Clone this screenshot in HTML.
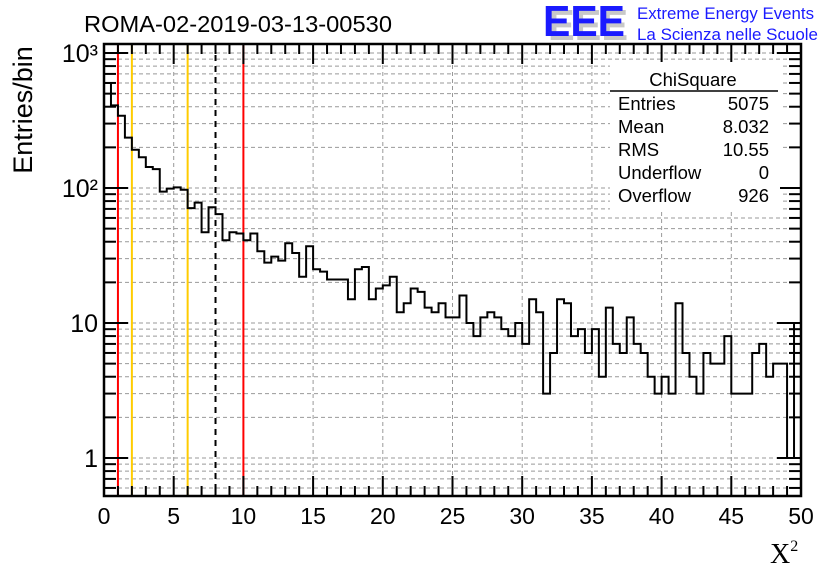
<!DOCTYPE html>
<html><head><meta charset="utf-8"><style>
html,body{margin:0;padding:0;background:#fff;}
svg{display:block;font-family:"Liberation Sans",sans-serif;}
</style></head><body>
<svg id="chart" width="836" height="572" viewBox="0 0 836 572" xmlns="http://www.w3.org/2000/svg">
<g id="grid"></g>
<g id="marks"></g>
<g id="hist"></g>
<g id="axes"></g>
<text x="84" y="32" font-size="23.5" textLength="308" lengthAdjust="spacingAndGlyphs">ROMA-02-2019-03-13-00530</text>
<text x="32" y="110" font-size="27" transform="rotate(-90 32 110)" text-anchor="middle">Entries/bin</text>
<text x="770" y="563" font-size="28" font-family="Liberation Serif, serif">X<tspan font-size="16" dy="-12">2</tspan></text>
<g>
<text x="548" y="40" font-size="44" font-weight="bold" fill="#c8c8c8" textLength="80" lengthAdjust="spacingAndGlyphs">EEE</text>
<text x="543" y="36" font-size="44" font-weight="bold" fill="#1a1aff" textLength="82" lengthAdjust="spacingAndGlyphs">EEE</text>
<text x="637" y="19" font-size="16.5" fill="#1a1aff" textLength="177" lengthAdjust="spacingAndGlyphs">Extreme Energy Events</text>
<text x="637" y="40" font-size="16.5" fill="#1a1aff" textLength="181" lengthAdjust="spacingAndGlyphs">La Scienza nelle Scuole</text>
</g>
<g font-size="18.5">
<rect x="610" y="62" width="170" height="150" fill="#fff"/>
<text x="693" y="86" text-anchor="middle">ChiSquare</text>
<line x1="610" y1="91" x2="778" y2="91" stroke="#000" stroke-width="1.5"/>
<text x="618" y="110">Entries</text><text x="769" y="110" text-anchor="end">5075</text>
<text x="618" y="133">Mean</text><text x="769" y="133" text-anchor="end">8.032</text>
<text x="618" y="156">RMS</text><text x="769" y="156" text-anchor="end">10.55</text>
<text x="618" y="179">Underflow</text><text x="769" y="179" text-anchor="end">0</text>
<text x="618" y="202">Overflow</text><text x="769" y="202" text-anchor="end">926</text>
</g>
</svg>
<script>
const counts = [600,409,343,236,192,169,143,138,94,99,101,97,71,78,47,72,64,41,47,46,41,46,34,28,31,29,39,33,22,37,25,24,21,21,21,15,25,26,15,18,19,22,12,14,18,17,13,12,14,11,11,16,10,8,11,12,11,9,8,10,7,15,12,3,6,15,14,8,9,6,9,4,13,7,6,11,7,6,4,3,4,3,14,6,4,3,6,5,5,8,3,3,3,6,7,4,5,5,1,10];
const xTicks = [0,5,10,15,20,25,30,35,40,45,50];
const yDecades = [1,10,100,1000];
const yLabels = ["1","10","10²","10³"];
const cutRed = [1,10];
const cutYellow = [2,6];
const cutMean = [8];
const xMin=0,xMax=50,binW=0.5;
const L=104,R=801,T=44,B=496;
const y1=458,dec=135;
function sx(v){return L+(v-xMin)/(xMax-xMin)*(R-L);}
function sy(v){return y1-Math.log10(v)*dec;}
const NS="http://www.w3.org/2000/svg";
function mk(p,tag,a){const e=document.createElementNS(NS,tag);for(const k in a)e.setAttribute(k,a[k]);p.appendChild(e);return e;}
const grid=document.getElementById('grid'),axes=document.getElementById('axes'),hist=document.getElementById('hist'),marks=document.getElementById('marks');
for(const t of xTicks){if(t===xMin||t===xMax)continue;const g=mk(grid,'line',{x1:sx(t),x2:sx(t),y1:T,y2:B,stroke:'#999','stroke-dasharray':'4,3','stroke-width':1});

}
const yLog=[];for(const d of [0.1,1,10,100,1000])for(let m=1;m<10;m++){const v=d*m;const y=sy(v);if(y<T||y>B)continue;yLog.push([v,m]);}
for(const [v,m] of yLog){const g=mk(grid,'line',{x1:L,x2:R,y1:sy(v),y2:sy(v),stroke:'#999','stroke-dasharray':'4,3','stroke-width':1});


const len=m===1?24:12;
const tl=mk(axes,'line',{x1:L,x2:L+len,y1:sy(v),y2:sy(v),stroke:'#000','stroke-width':2});


const tr=mk(axes,'line',{x1:R-len,x2:R,y1:sy(v),y2:sy(v),stroke:'#000','stroke-width':2});

}
function vline(v,col,name,dash){const e=mk(marks,'line',{x1:sx(v),x2:sx(v),y1:T,y2:B,stroke:col,'stroke-width':2});if(dash)e.setAttribute('stroke-dasharray','6,5');

}
cutRed.forEach(v=>vline(v,'#ff0000','red-cut-line'));
cutYellow.forEach(v=>vline(v,'#ffcc00','yellow-cut-line'));
cutMean.forEach(v=>vline(v,'#000','mean-line',true));
let d='';counts.forEach((c,i)=>{const x0=sx(xMin+i*binW),x1=sx(xMin+(i+1)*binW),y=sy(c);d+=(i===0?'M'+x0+','+y:'L'+x0+','+y)+'L'+x1+','+y;});
const p=mk(hist,'path',{d:d,fill:'none',stroke:'#000','stroke-width':2});


const f=mk(axes,'rect',{x:L,y:T,width:R-L,height:B-T,fill:'none',stroke:'#000','stroke-width':2.5});


for(let v=xMin;v<=xMax;v+=1){const big=v%5===0;const len=big?20:10;
const a=mk(axes,'line',{x1:sx(v),x2:sx(v),y1:B,y2:B-len,stroke:'#000','stroke-width':2});


const b=mk(axes,'line',{x1:sx(v),x2:sx(v),y1:T,y2:T+len,stroke:'#000','stroke-width':2});

}
xTicks.forEach(t=>{const e=mk(axes,'text',{x:sx(t),y:B+28,'font-size':23,'text-anchor':'middle'});e.textContent=t;

});
yDecades.forEach((v,i)=>{const e=mk(axes,'text',{x:L-6,y:sy(v)+9,'font-size':25,'text-anchor':'end'});e.textContent=yLabels[i];

});
</script>
</body></html>
